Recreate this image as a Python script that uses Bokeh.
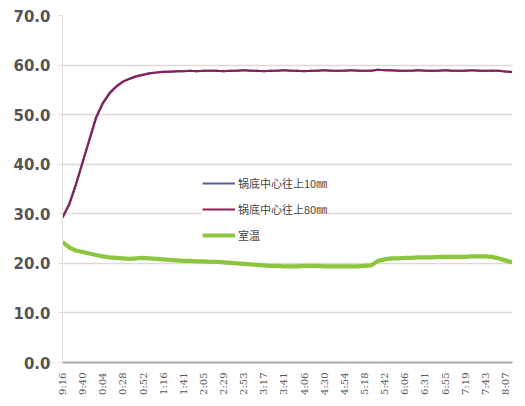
import math
from bokeh.plotting import figure
from bokeh.models import Range1d, FixedTicker, NumeralTickFormatter, Legend, LegendItem
from bokeh.embed import file_html
from bokeh.resources import INLINE

time_labels = ["9:16", "9:40", "0:04", "0:28", "0:52", "1:16", "1:41", "2:05", "2:29",
               "2:53", "3:17", "3:41", "4:06", "4:30", "4:54", "5:18", "5:42", "6:06",
               "6:31", "6:55", "7:19", "7:43", "8:07"]

# samples every 1/3 of a label interval
bottom10 = [29.3, 32.0, 36.0, 40.5, 45.0, 49.5, 52.4, 54.4, 55.7, 56.7, 57.3, 57.8,
            58.1, 58.4, 58.5, 58.7, 58.6, 58.8, 58.7, 58.9, 58.7, 58.9, 58.8, 58.9,
            58.7, 58.9, 58.8, 59.0, 58.8, 58.9, 58.7, 58.9, 58.8, 59.0, 58.8, 58.9,
            58.7, 58.9, 58.8, 59.0, 58.8, 58.9, 58.8, 59.0, 58.8, 58.9, 58.8, 59.1,
            58.9, 59.0, 58.8, 58.9, 58.8, 59.0, 58.8, 58.9, 58.8, 59.0, 58.8, 58.9,
            58.8, 59.0, 58.8, 58.9, 58.8, 58.9, 58.7, 58.6]
bottom80 = [29.2, 31.8, 35.8, 40.3, 44.8, 49.3, 52.2, 54.2, 55.6, 56.6, 57.2, 57.7,
            58.0, 58.3, 58.5, 58.6, 58.7, 58.7, 58.8, 58.8, 58.8, 58.8, 58.9, 58.8,
            58.8, 58.8, 58.9, 58.9, 58.9, 58.8, 58.8, 58.8, 58.9, 58.9, 58.9, 58.8,
            58.8, 58.8, 58.9, 58.9, 58.9, 58.8, 58.9, 58.9, 58.9, 58.8, 58.9, 59.0,
            59.0, 58.9, 58.9, 58.8, 58.9, 58.9, 58.9, 58.8, 58.9, 58.9, 58.9, 58.8,
            58.9, 58.9, 58.9, 58.8, 58.9, 58.8, 58.7, 58.6]
room = [24.3, 23.2, 22.6, 22.3, 22.0, 21.7, 21.4, 21.2, 21.1, 21.0, 20.9, 21.0,
        21.1, 21.0, 20.9, 20.8, 20.7, 20.6, 20.5, 20.5, 20.4, 20.4, 20.3, 20.3,
        20.2, 20.1, 20.0, 19.9, 19.8, 19.7, 19.6, 19.5, 19.5, 19.4, 19.4, 19.4,
        19.5, 19.5, 19.5, 19.4, 19.4, 19.4, 19.4, 19.4, 19.4, 19.5, 19.6, 20.5,
        20.8, 21.0, 21.0, 21.1, 21.1, 21.2, 21.2, 21.2, 21.3, 21.3, 21.3, 21.3,
        21.3, 21.4, 21.4, 21.4, 21.3, 21.0, 20.6, 20.2]

series_names = ["锅底中心往上10㎜", "锅底中心往上80㎜", "室温"]
xs = [i / 3 for i in range(len(room))]

p = figure(width=520, height=404, output_backend="svg", toolbar_location=None,
           x_range=Range1d(0, 22.35), y_range=Range1d(0, 70),
           min_border_left=62, min_border_right=8, min_border_top=15, min_border_bottom=42)
p.background_fill_color = "white"
p.border_fill_color = "white"
p.outline_line_color = None

r1 = p.line(xs, bottom10, line_color="#5a5a9c", line_width=2.2)
r2 = p.line(xs, bottom80, line_color="#8e1f56", line_width=2.0)
r3 = p.line(xs, room, line_color="#8cc63f", line_width=4.2)

p.xgrid.grid_line_color = None
p.ygrid.grid_line_color = "#e2d6d6"
p.ygrid.grid_line_width = 1.5
p.ygrid.ticker = FixedTicker(ticks=list(range(10, 80, 10)))

p.yaxis.ticker = FixedTicker(ticks=list(range(0, 80, 10)))
p.yaxis.formatter = NumeralTickFormatter(format="0.0")
p.yaxis.major_label_text_font = "DejaVu Sans"
p.yaxis.major_label_text_font_style = "bold"
p.yaxis.major_label_text_font_size = "15px"
p.yaxis.major_label_text_color = "#555555"
p.yaxis.axis_line_color = "#dddddd"
p.yaxis.major_tick_line_color = "#dddddd"
p.yaxis.major_tick_out = 4
p.yaxis.major_tick_in = 0
p.yaxis.minor_tick_line_color = None
p.yaxis.major_label_standoff = 8

p.xaxis.ticker = FixedTicker(ticks=list(range(len(time_labels))))
p.xaxis.major_label_overrides = {i: t for i, t in enumerate(time_labels)}
p.xaxis.major_label_orientation = math.pi / 2
p.xaxis.major_label_text_font = "DejaVu Serif"
p.xaxis.major_label_text_font_size = "10px"
p.xaxis.major_label_text_color = "#555555"
p.xaxis.axis_line_color = "#aaaaaa"
p.xaxis.axis_line_width = 2
p.xaxis.major_tick_line_color = None
p.xaxis.minor_tick_line_color = None
p.xaxis.major_label_standoff = 4

legend = Legend(items=[LegendItem(label=series_names[0], renderers=[r1]),
                       LegendItem(label=series_names[1], renderers=[r2]),
                       LegendItem(label=series_names[2], renderers=[r3])],
                location=(140, 117))
legend.background_fill_color = "white"
legend.background_fill_alpha = 1
legend.border_line_color = None
legend.label_text_font = "Noto Sans CJK SC"
legend.label_text_font_size = "11px"
legend.label_text_color = "#444444"
legend.glyph_width = 33
legend.glyph_height = 20
legend.label_height = 20
legend.spacing = 6
legend.padding = 5
legend.margin = 0
legend.label_standoff = 3
p.add_layout(legend)

open("out.html", "w").write(file_html(p, INLINE))
